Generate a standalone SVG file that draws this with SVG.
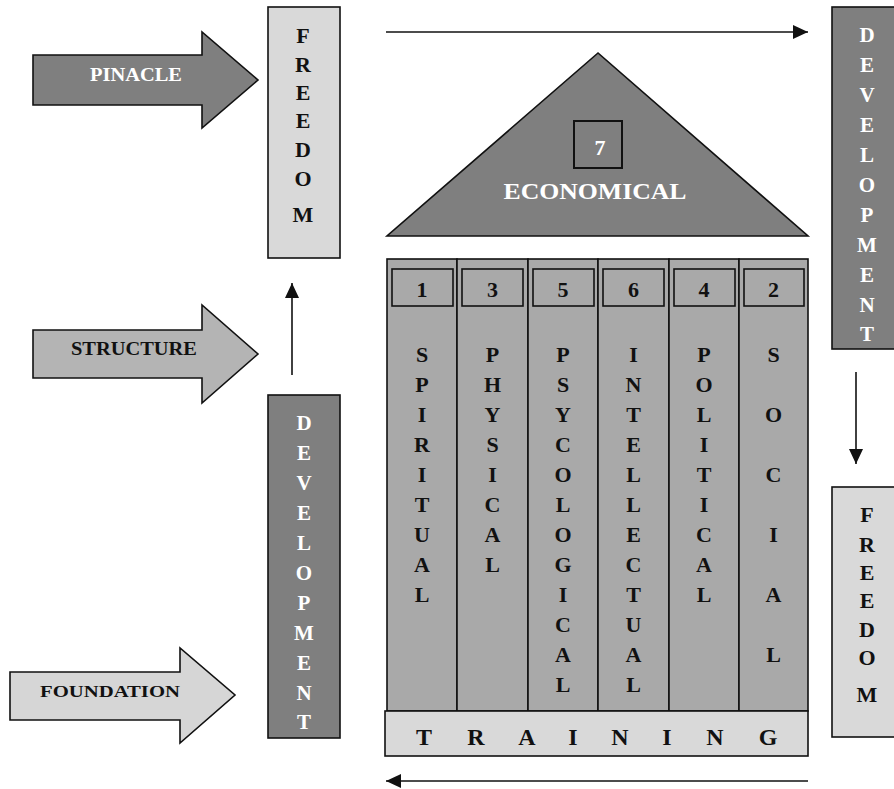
<svg xmlns="http://www.w3.org/2000/svg" width="894" height="789" viewBox="0 0 894 789">
<style>
.t{font-family:"Liberation Serif","Times New Roman",serif;font-weight:bold;text-anchor:middle}
.dk{fill:#7f7f7f;stroke:#111;stroke-width:1.6}
.md{fill:#a9a9a9;stroke:#111;stroke-width:1.6}
.lt{fill:#d9d9d9;stroke:#111;stroke-width:1.6}
.wt{fill:#fff}
.bk{fill:#111}
.cl{font-size:22px}
.con{stroke:#111;stroke-width:1.6;fill:none;marker-end:url(#ah)}
</style>
<defs>
<marker id="ah" viewBox="0 0 15 14" markerWidth="15" markerHeight="14" refX="15" refY="7" orient="auto" markerUnits="userSpaceOnUse">
<path d="M0,0 L15,7 L0,14 z" fill="#111"/>
</marker>
</defs>
<rect width="894" height="789" fill="#fff"/>

<g id="connectors">
<path class="con" d="M386,32 H808"/>
<path class="con" d="M292,375 V283"/>
<path class="con" d="M856,372 V464"/>
<path class="con" d="M808,781 H386"/>
</g>

<g id="pinacle">
<polygon class="dk" points="33,55 202,55 202,32 258,80 202,128 202,105 33,105"/>
<text class="t wt" x="136" y="81" font-size="18" textLength="92" lengthAdjust="spacingAndGlyphs">PINACLE</text>
</g>
<g id="structure">
<polygon fill="#b4b4b4" stroke="#111" stroke-width="1.6" points="33,330 202,330 202,305 258,354 202,403 202,378 33,378"/>
<text class="t bk" x="134" y="355" font-size="18" textLength="126" lengthAdjust="spacingAndGlyphs">STRUCTURE</text>
</g>
<g id="foundation">
<polygon fill="#d6d6d6" stroke="#111" stroke-width="1.6" points="10,672 180,672 180,648 235,695 180,743 180,720 10,720"/>
<text class="t bk" x="110" y="697" font-size="17" textLength="140" lengthAdjust="spacingAndGlyphs">FOUNDATION</text>
</g>

<g id="freedom-left">
<rect class="lt" x="268" y="7" width="72" height="251"/>
<text class="t bk" font-size="22" x="303 303 303 303 303 303 303" y="43 72 100 128 157 186 222">FREEDOM</text>
</g>
<g id="development-left">
<rect class="dk" x="268" y="395" width="72" height="343"/>
<text class="t wt" font-size="21" x="304 304 304 304 304 304 304 304 304 304 304" y="430 460 490 520 550 580 610 640 670 700 729">DEVELOPMENT</text>
</g>
<g id="development-right">
<rect class="dk" x="832" y="7" width="72" height="342"/>
<text class="t wt" font-size="21" x="867 867 867 867 867 867 867 867 867 867 867" y="42 72 102 132 162 192 222 252 282 312 341">DEVELOPMENT</text>
</g>
<g id="freedom-right">
<rect class="lt" x="832" y="487" width="72" height="250"/>
<text class="t bk" font-size="22" x="867 867 867 867 867 867 867" y="522 552 580 608 637 665 702">FREEDOM</text>
</g>

<g id="economical">
<polygon class="dk" points="598,53 387,236 808,236"/>
<rect x="574" y="121" width="48" height="47" fill="none" stroke="#111" stroke-width="2"/>
<text class="t wt" x="600" y="155" font-size="22">7</text>
<text class="t wt" x="595" y="199" font-size="24" textLength="183" lengthAdjust="spacingAndGlyphs">ECONOMICAL</text>
</g>

<g id="spiritual">
<rect class="md" x="387" y="259" width="70" height="452"/>
<rect class="md" x="392" y="269" width="61" height="37"/>
<text class="t bk cl" x="422" y="297">1</text>
<text class="t bk cl" x="422 422 422 422 422 422 422 422 422" y="362 392 422 452 482 512 542 572 602">SPIRITUAL</text>
</g>
<g id="physical">
<rect class="md" x="457" y="259" width="71" height="452"/>
<rect class="md" x="462" y="269" width="61" height="37"/>
<text class="t bk cl" x="492.5" y="297">3</text>
<text class="t bk cl" x="492.5 492.5 492.5 492.5 492.5 492.5 492.5 492.5" y="362 392 422 452 482 512 542 572">PHYSICAL</text>
</g>
<g id="psycological">
<rect class="md" x="528" y="259" width="70" height="452"/>
<rect class="md" x="533" y="269" width="61" height="37"/>
<text class="t bk cl" x="563" y="297">5</text>
<text class="t bk cl" x="563 563 563 563 563 563 563 563 563 563 563 563" y="362 392 422 452 482 512 542 572 602 632 662 692">PSYCOLOGICAL</text>
</g>
<g id="intellectual">
<rect class="md" x="598" y="259" width="71" height="452"/>
<rect class="md" x="603" y="269" width="61" height="37"/>
<text class="t bk cl" x="633.5" y="297">6</text>
<text class="t bk cl" x="633.5 633.5 633.5 633.5 633.5 633.5 633.5 633.5 633.5 633.5 633.5 633.5" y="362 392 422 452 482 512 542 572 602 632 662 692">INTELLECTUAL</text>
</g>
<g id="political">
<rect class="md" x="669" y="259" width="70" height="452"/>
<rect class="md" x="674" y="269" width="61" height="37"/>
<text class="t bk cl" x="704" y="297">4</text>
<text class="t bk cl" x="704 704 704 704 704 704 704 704 704" y="362 392 422 452 482 512 542 572 602">POLITICAL</text>
</g>
<g id="social">
<rect class="md" x="739" y="259" width="69" height="452"/>
<rect class="md" x="744" y="269" width="60" height="37"/>
<text class="t bk cl" x="773.5" y="297">2</text>
<text class="t bk cl" x="773.5 773.5 773.5 773.5 773.5 773.5" y="362 422 482 542 602 662">SOCIAL</text>
</g>

<g id="training">
<rect class="lt" x="385" y="711" width="423" height="45" fill="#dedede"/>
<text class="t bk" font-size="24" x="424 476 527 573 620 667 715 768" y="745">TRAINING</text>
</g>
</svg>
